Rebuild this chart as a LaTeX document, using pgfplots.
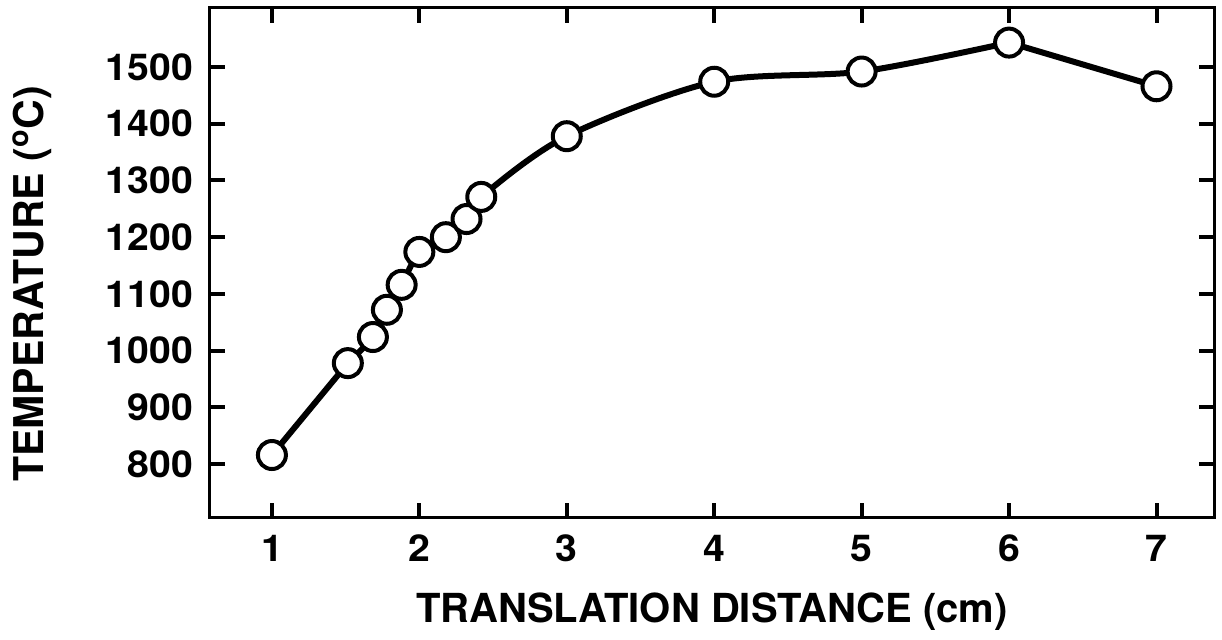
\documentclass[border=0pt]{standalone}
\usepackage{fontspec}
\setmainfont{TeX Gyre Heros}
\newfontfamily\tickfont{TeX Gyre Heros}[FakeStretch=1.06]
\usepackage{pgfplots}
\pgfplotsset{compat=1.18}
\begin{document}
\begin{tikzpicture}
\begin{axis}[
  scale only axis=true,
  width=502pt, height=255pt,
  xmin=0.58, xmax=7.39, ymin=705, ymax=1604,
  xtick={1,2,3,4,5,6,7},
  ytick={800,900,1000,1100,1200,1300,1400,1500},
  tick align=inside,
  major tick length=7.5pt,
  every tick/.style={black, line width=2pt},
  axis line style={black, line width=1.5pt},
  /pgf/number format/assume math mode=true,
  /pgf/number format/1000 sep={},
  tick label style={font=\fontsize{18.5}{22}\tickfont\bfseries},
  xticklabel style={yshift=-5pt},
  yticklabel style={xshift=-5pt},
  xlabel={TRANSLATION DISTANCE (cm)},
  ylabel={TEMPERATURE (\textsuperscript{o}C)},
  every axis x label/.style={at={(axis description cs:0.5,-0.184)}, anchor=center, font=\fontsize{20}{24}\selectfont\bfseries},
  every axis y label/.style={at={(axis description cs:-0.177,0.459)}, rotate=90, anchor=center, font=\fontsize{20.5}{24}\selectfont\bfseries},
  clip=false,
]
\addplot[black, line width=3pt] coordinates {(1.00,816) (1.515,978)};
\addplot[black, line width=3pt, smooth] coordinates {
(1.515,978) (1.685,1024) (1.78,1072) (1.88,1116) (2.00,1174) (2.18,1200)
(2.32,1232) (2.42,1271) (3.00,1378) (4.00,1474) (5.00,1492) (6.00,1543)};
\addplot[black, line width=3pt] coordinates {(6.00,1543) (7.00,1466)};
\addplot[only marks, mark=*, mark size=7pt, mark options={fill=white, draw=black, line width=2pt}] coordinates {
(1.00,816) (1.515,978) (1.685,1024) (1.78,1072) (1.88,1116) (2.00,1174) (2.18,1200)
(2.32,1232) (2.42,1271) (3.00,1378) (4.00,1474) (5.00,1492) (6.00,1543) (7.00,1466)};
\end{axis}
\pgfresetboundingbox
\path[use as bounding box] ([shift={(-105pt,-61pt)}]current axis.south west) rectangle ([shift={(4pt,4pt)}]current axis.north east);
\end{tikzpicture}
\end{document}
